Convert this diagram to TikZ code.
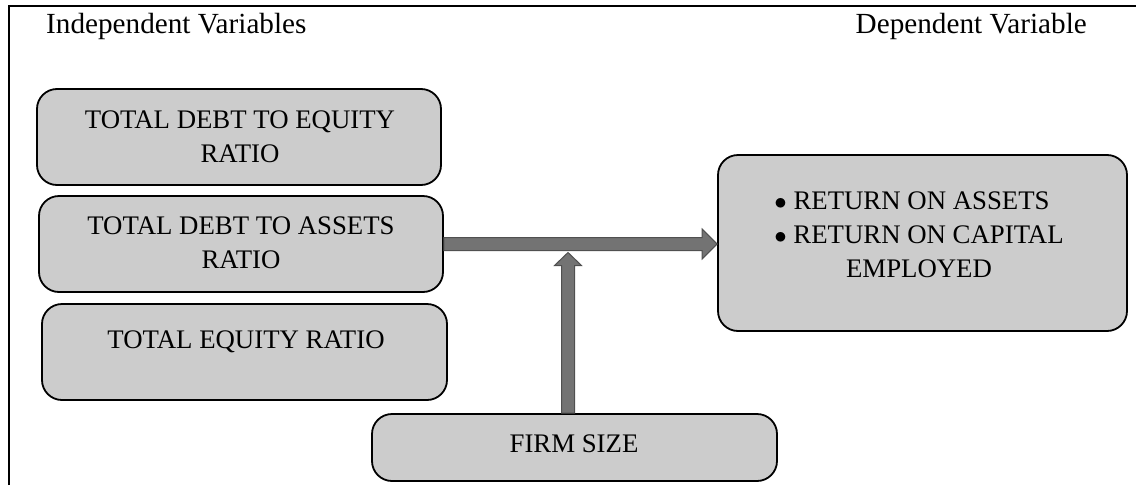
\documentclass[tikz,border=0pt]{standalone}
\usepackage{fontspec}
\setmainfont{Liberation Serif}
\usetikzlibrary{calc}
\definecolor{boxgray}{HTML}{CCCCCC}
\definecolor{arrowgray}{HTML}{737373}
\definecolor{arrowedge}{HTML}{505050}
\begin{document}
\begin{tikzpicture}[x=1pt,y=-1pt,
  varbox/.style={draw=black, line width=1.8pt, fill=boxgray, rounded corners=20pt, inner sep=0pt},
  boxtext/.style={font=\fontsize{26.8}{34}\selectfont, align=center, inner sep=0pt},
  headtext/.style={font=\fontsize{29.2}{34}\selectfont, inner sep=0pt},
  fatarrow/.style={fill=arrowgray, draw=arrowedge, line width=1pt, line join=miter}
]
\useasboundingbox (0,0) rectangle (1136,485);
\fill[white] (0,0) rectangle (1136,485);
% frame
\coordinate (fTL) at (9,6);
\coordinate (fTR) at (1136,6);
\coordinate (fBL) at (9,485);
\draw[line width=2pt] (fBL) -- (fTL) -- (fTR);
% headers
\node[headtext, anchor=base west] (hind) at (46,33) {Independent Variables};
\node[headtext, anchor=base east] (hdep) at (1087,33) {Dependent Variable};
% left boxes
\node[varbox, minimum width=404pt, minimum height=96pt] (b1) at (239,137) {};
\node[boxtext] (t1) at (240,137) {TOTAL DEBT TO EQUITY\\RATIO};
\node[varbox, minimum width=404pt, minimum height=96pt] (b2) at (241,244) {};
\node[boxtext] (t2) at (241,243) {TOTAL DEBT TO ASSETS\\RATIO};
\node[varbox, minimum width=405pt, minimum height=96pt] (b3) at (244.5,352) {};
\node[boxtext] (t3) at (246,342) {TOTAL EQUITY RATIO};
% firm size
\node[varbox, minimum width=405pt, minimum height=67pt] (firm) at (574.5,447.5) {};
\node[boxtext] (tf) at (574,444) {FIRM SIZE};
% dependent box
\node[varbox, minimum width=409pt, minimum height=176pt] (res) at (922.5,243) {};
\node[boxtext] (tr) at (912,235) {$\bullet$ RETURN ON ASSETS\\\hspace*{14pt}$\bullet$ RETURN ON CAPITAL\\\hspace*{14pt}EMPLOYED};
% horizontal arrow
\coordinate (h0) at (b2.east);
\coordinate (h1) at (res.west |- b2.east);
\draw[fatarrow] ($(h0)+(0,-6.5)$) -- ($(h1)+(-15,-6.5)$) -- ($(h1)+(-15,-15)$) -- (h1)
  -- ($(h1)+(-15,15)$) -- ($(h1)+(-15,6.5)$) -- ($(h0)+(0,6.5)$) -- cycle;
% vertical arrow
\coordinate (v0) at ([xshift=-6.5pt]firm.north);
\coordinate (v1) at ($(v0 |- h0)+(0,8.5)$);
\draw[fatarrow] ($(v0)+(-6.5,0)$) -- ($(v1)+(-6.5,13)$) -- ($(v1)+(-13.5,13)$) -- (v1)
  -- ($(v1)+(13.5,13)$) -- ($(v1)+(6.5,13)$) -- ($(v0)+(6.5,0)$) -- cycle;
\end{tikzpicture}
\end{document}
